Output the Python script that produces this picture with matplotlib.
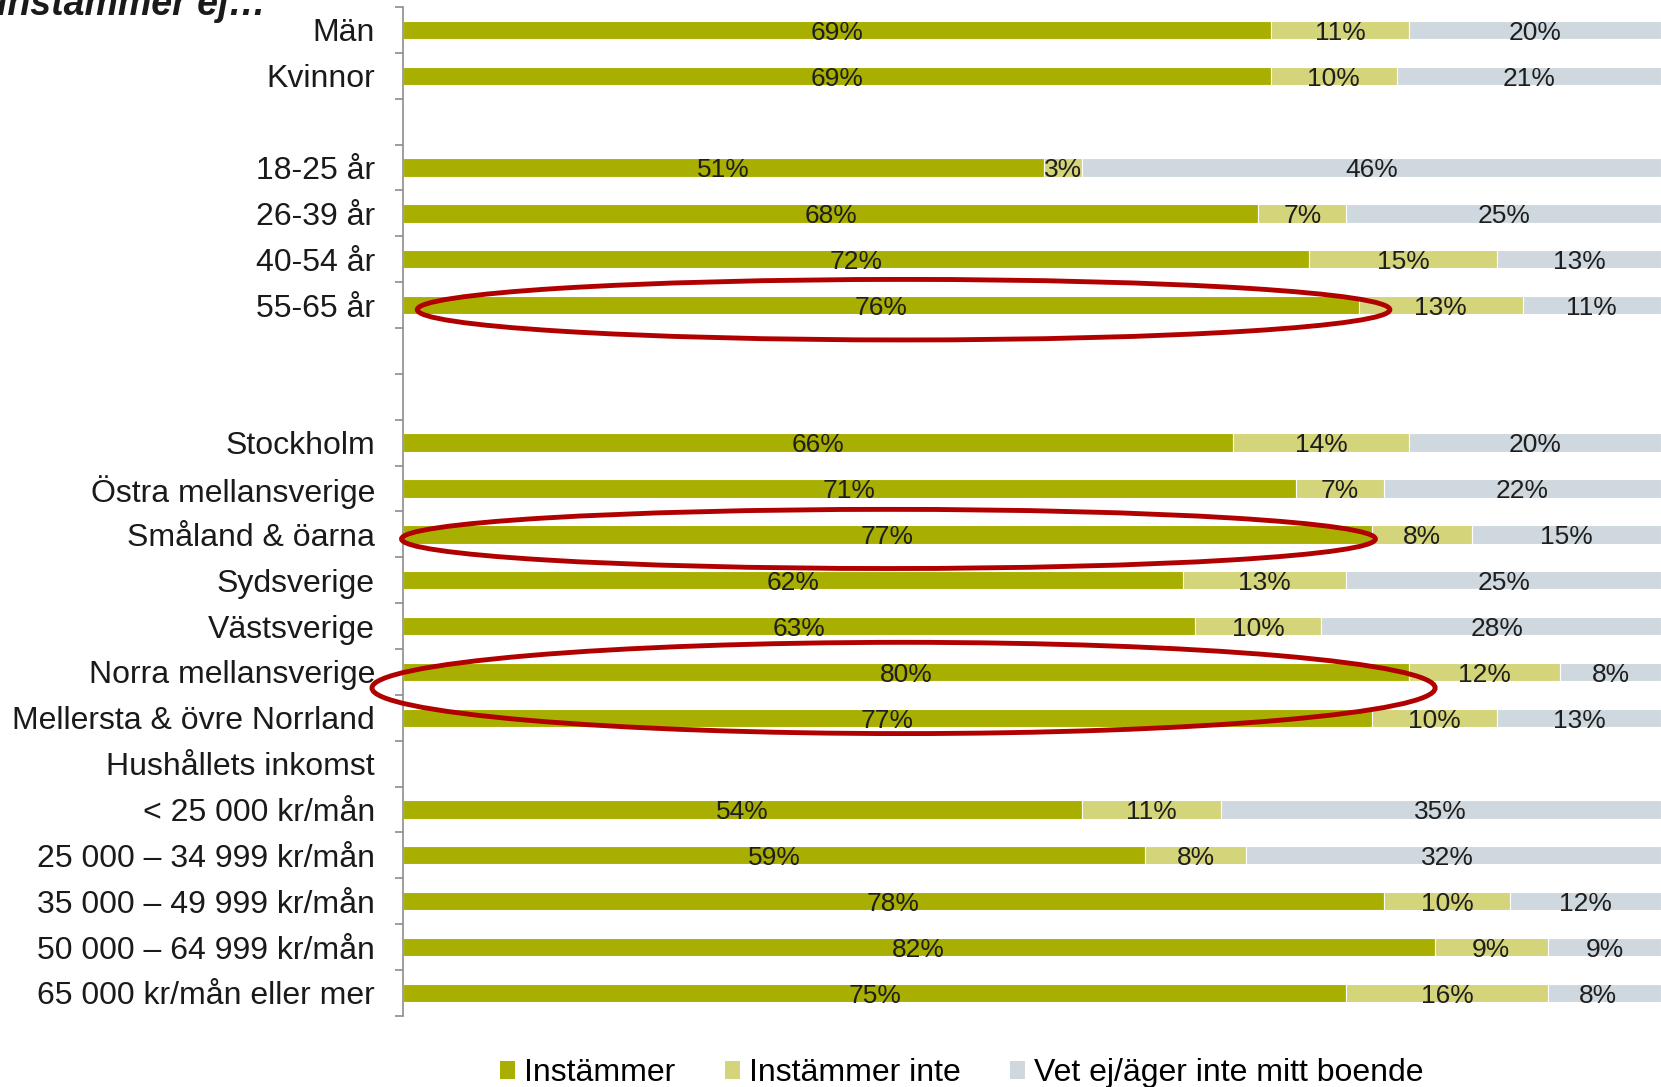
import matplotlib.pyplot as plt
from matplotlib.patches import Ellipse, Patch

plt.rcParams['font.family'] = ['Liberation Sans', 'DejaVu Sans']

# rader uppifrån och ned ('' = tom rad)
labels = ['Män', 'Kvinnor', '',
          '18-25 år', '26-39 år', '40-54 år', '55-65 år', '', '',
          'Stockholm', 'Östra mellansverige', 'Småland & öarna', 'Sydsverige',
          'Västsverige', 'Norra mellansverige', 'Mellersta & övre Norrland',
          'Hushållets inkomst',
          '< 25 000 kr/mån', '25 000 – 34 999 kr/mån', '35 000 – 49 999 kr/mån',
          '50 000 – 64 999 kr/mån', '65 000 kr/mån eller mer']

instammer = [69, 69, None, 51, 68, 72, 76, None, None,
             66, 71, 77, 62, 63, 80, 77, None, 54, 59, 78, 82, 75]
instammer_inte = [11, 10, None, 3, 7, 15, 13, None, None,
                  14, 7, 8, 13, 10, 12, 10, None, 11, 8, 10, 9, 16]
vet_ej = [20, 21, None, 46, 25, 13, 11, None, None,
          20, 22, 15, 25, 28, 8, 13, None, 35, 32, 12, 9, 8]

series = ['Instämmer', 'Instämmer inte', 'Vet ej/äger inte mitt boende']
colors = ['#A9AF00', '#D4D47A', '#CED8DE']

# markerade rader: (rad, mitt i %, bredd i %, höjd i rader)
highlights = [(6.1, 39.8, 77.3, 1.32), (11.1, 38.6, 77.4, 1.29), (14.35, 39.8, 84.5, 1.99)]

fig = plt.figure(figsize=(16.61, 10.87), dpi=100)
ax = fig.add_axes([0.2425, 0.0655, 0.7575, 0.928])

rows = list(range(len(labels)))
for i in rows:
    if instammer[i] is None:
        continue
    left = 0
    vals = [instammer[i], instammer_inte[i], vet_ej[i]]
    for k, (val, col) in enumerate(zip(vals, colors)):
        # sista delen fyller ut till 100 % (avrundade värden)
        w = 100 - left if k == 2 else val
        ax.barh(i, w, left=left, height=0.4, color=col, edgecolor='white', linewidth=0.8)
        ax.text(left + val / 2, i + 0.06, f'{val}%', ha='center', va='center',
                fontsize=19, color='#1e1e1e')
        left += val

for (yc, xc, w, h) in highlights:
    ax.add_patch(Ellipse((xc, yc), w, h, fill=False, edgecolor='#B00000',
                         linewidth=3.5, clip_on=False, zorder=5))

ax.set_xlim(0, 100)
ax.set_ylim(len(labels) - 0.5, -0.5)
ax.set_yticks(rows)
ax.set_yticklabels(labels, fontsize=23, color='#1a1a1a')
ax.set_yticks([r - 0.5 for r in rows] + [len(labels) - 0.5], minor=True)
ax.tick_params(axis='y', which='major', length=0, pad=20)
ax.tick_params(axis='y', which='minor', length=6, width=1.2, color='#8c8c8c')
ax.set_xticks([])
for s in ['top', 'right', 'bottom']:
    ax.spines[s].set_visible(False)
ax.spines['left'].set_color('#8c8c8c')
ax.spines['left'].set_linewidth(1.2)

fig.text(-0.002, 0.986, 'instämmer ej…', fontsize=27, fontweight='bold',
         fontstyle='italic', va='baseline', ha='left', color='#1a1a1a')

handles = [Patch(facecolor=c, edgecolor='none') for c in colors]
fig.legend(handles, series, loc='center', bbox_to_anchor=(0.579, 0.0125), ncol=3,
           frameon=False, fontsize=23, handlelength=0.47, handleheight=0.47,
           handletextpad=0.28, columnspacing=1.56, borderpad=0)

fig.savefig('out.png', dpi=100)
